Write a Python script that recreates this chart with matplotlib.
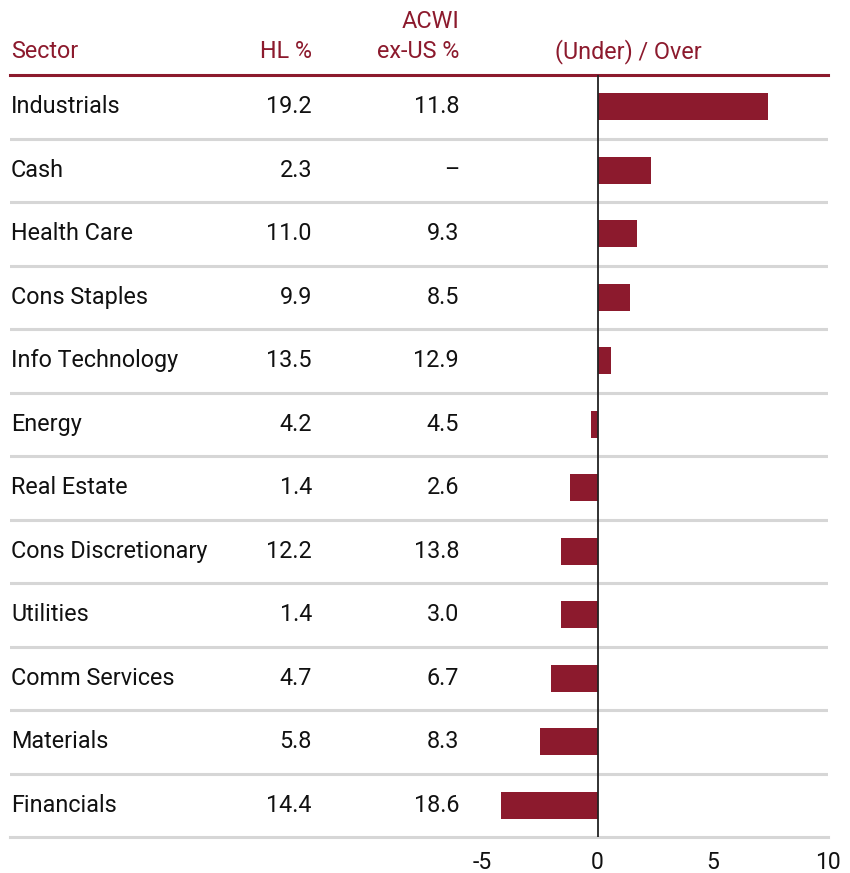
import matplotlib
matplotlib.use("Agg")
import matplotlib.pyplot as plt
import matplotlib.transforms as mtransforms

sectors = ["Industrials", "Cash", "Health Care", "Cons Staples", "Info Technology",
           "Energy", "Real Estate", "Cons Discretionary", "Utilities", "Comm Services",
           "Materials", "Financials"]
hl_pct = ["19.2", "2.3", "11.0", "9.9", "13.5", "4.2", "1.4", "12.2", "1.4", "4.7", "5.8", "14.4"]
acwi_pct = ["11.8", "–", "9.3", "8.5", "12.9", "4.5", "2.6", "13.8", "3.0", "6.7", "8.3", "18.6"]
under_over = [7.4, 2.3, 1.7, 1.4, 0.6, -0.3, -1.2, -1.6, -1.6, -2.0, -2.5, -4.2]
xticks = [-5, 0, 5, 10]

RED = "#8C1A2D"
GRID = "#d6d6d6"
TXT = "#111111"
plt.rcParams['font.family'] = ['Roboto', 'DejaVu Sans']

W, H = 850, 873
fig = plt.figure(figsize=(W / 100, H / 100), dpi=100)
left, right, top, bottom = 10, 828, 75, 837
ax = fig.add_axes([left / W, 1 - bottom / H, (right - left) / W, (bottom - top) / H])

n = len(sectors)
ypos = list(range(n))
ax.barh(ypos, under_over, height=0.43, color=RED, zorder=3)
ax.set_ylim(n - 0.5, -0.5)
ax.set_xlim(-25.5, 10.0)
ax.axvline(0, color="#222222", lw=1.3, zorder=4)
for i in range(n - 1):
    ax.axhline(i + 0.5, color=GRID, lw=2.2, zorder=1)

for s in ["left", "right"]:
    ax.spines[s].set_visible(False)
ax.spines["top"].set_color(RED)
ax.spines["top"].set_linewidth(2.2)
ax.spines["bottom"].set_color(GRID)
ax.spines["bottom"].set_linewidth(2.2)
ax.set_yticks([])
ax.set_xticks(xticks)
ax.set_xticklabels([str(t) for t in xticks])
ax.tick_params(axis="x", length=0, pad=10, labelsize=16.5, labelcolor=TXT)

trans = mtransforms.blended_transform_factory(fig.transFigure, ax.transData)
fs = 16.8
for i in range(n):
    fig.text(11 / W, i, sectors[i], transform=trans, ha="left", va="center", fontsize=fs, color=TXT)
    fig.text(312 / W, i, hl_pct[i], transform=trans, ha="right", va="center", fontsize=fs, color=TXT)
    fig.text(459 / W, i, acwi_pct[i], transform=trans, ha="right", va="center", fontsize=fs, color=TXT)

hy = 1 - 52 / H
fig.text(11 / W, hy, "Sector", ha="left", va="center", fontsize=fs, color=RED)
fig.text(312 / W, hy, "HL %", ha="right", va="center", fontsize=fs, color=RED)
fig.text(459 / W, hy, "ex-US %", ha="right", va="center", fontsize=fs, color=RED)
fig.text(459 / W, 1 - 22 / H, "ACWI", ha="right", va="center", fontsize=fs, color=RED)
fig.text(628 / W, hy, "(Under) / Over", ha="center", va="center", fontsize=fs, color=RED)

fig.savefig("out.png", dpi=100)
